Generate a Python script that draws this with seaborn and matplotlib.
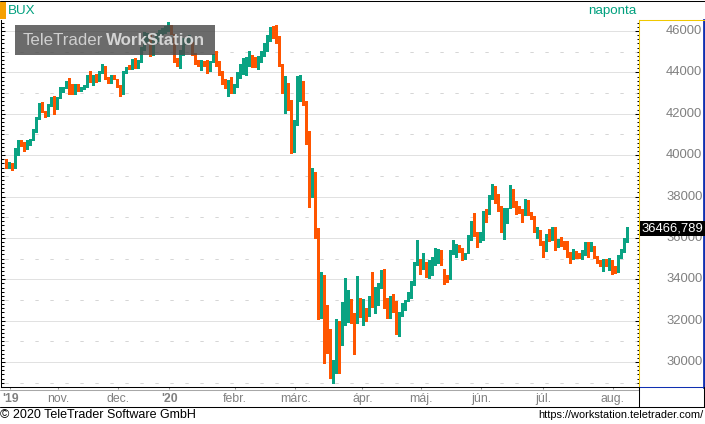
import numpy as np
import pandas as pd
import matplotlib
matplotlib.use("Agg")
import matplotlib.pyplot as plt
import matplotlib.transforms as mtrans
from matplotlib.lines import Line2D
from matplotlib.patches import Rectangle
from matplotlib.ticker import MultipleLocator
import seaborn as sns

# ---------------- data (BUX daily candles) ----------------
open_ = [39770, 39480, 39530, 39450, 40300, 40680, 40550, 40350, 40680, 40820,
         41220, 41780, 42420, 42070, 41940, 42420, 42830, 42280, 42780, 43100,
         43310, 43520, 43390, 43000, 43420, 43180, 43230, 43360, 43830, 43700,
         43880, 43630, 44030, 44230, 43740, 43550, 43830, 43630, 43360, 42990,
         44000, 44270, 44200, 44600, 44250, 44570, 45160, 45600, 45730, 44920,
         45450, 45560, 45900, 45950, 46100, 46250, 45800, 44630, 44470, 44890,
         45480, 45450, 45320, 44920, 44520, 44360, 44440, 44520, 44115, 44520,
         44800, 44520, 43960, 43630, 43400, 43480, 43040, 43360, 43830, 44050,
         44115, 44390, 44600, 44520, 44400, 44600, 44870, 45290, 45565, 46130,
         45770, 45710, 44360, 43070, 43470, 42620, 40200, 41540, 43260, 43310,
         42580, 41130, 38040, 38120, 36470, 32270, 34160, 32270, 31520, 29270,
         29510, 30950, 30880, 32550, 32670, 32950, 32160, 31950, 33080, 32350,
         32550, 32270, 33000, 32680, 32800, 33870, 34450, 32700, 32190, 33160,
         32900, 31580, 32300, 32760, 33000, 33180, 33770, 34770, 34930, 34560,
         34600, 34530, 34770, 34900, 34950, 35330, 34450, 34120, 34010, 35260,
         35410, 35620, 35460, 35050, 35300, 36050, 36500, 36270, 35820, 35980,
         37350, 37190, 37940, 38150, 37900, 37500, 36580, 37300, 37500, 38040,
         37720, 37460, 37270, 37150, 37510, 37190, 36980, 36330, 36330, 35810,
         35370, 36180, 35940, 36500, 35690, 35950, 35780, 35820, 35260, 35100,
         35320, 35200, 35120, 35210, 35560, 35420, 35580, 35090, 34930, 34720,
         34930, 34640, 34760, 34600, 34400, 35090, 35370, 35900]
high_ = [39800, 39650, 39600, 40350, 40750, 40720, 40650, 40720, 40800, 41250,
         41850, 42500, 42550, 42150, 42450, 42800, 42850, 42800, 43300, 43300,
         43600, 43710, 43450, 43450, 43450, 43310, 43400, 43870, 44070, 43870,
         43920, 44070, 44400, 44300, 43800, 43850, 43870, 43680, 43400, 44050,
         44250, 44350, 44650, 44700, 44600, 45250, 45970, 45900, 45800, 45550,
         45900, 46050, 46150, 46250, 46450, 46300, 45850, 44700, 45080, 45650,
         45650, 45800, 45450, 44950, 44600, 44600, 44550, 44600, 44560, 44900,
         45050, 44560, 44050, 43700, 43650, 43800, 43450, 44000, 44400, 44700,
         44750, 45050, 44850, 44760, 44800, 45050, 45400, 45810, 46200, 46260,
         46300, 45750, 44400, 43830, 43500, 42650, 41700, 43830, 43850, 43600,
         42600, 41150, 39360, 39170, 36500, 34350, 34200, 32760, 31600, 30100,
         32080, 31970, 32920, 34080, 33500, 33050, 32350, 34150, 33100, 33050,
         32600, 33200, 34350, 33620, 33800, 34450, 34480, 33100, 33200, 33300,
         32950, 32400, 32850, 33000, 33400, 33900, 34850, 35900, 35000, 35250,
         34850, 34930, 35100, 35530, 35450, 35400, 34500, 34200, 35400, 35895,
         35700, 35680, 35500, 35250, 36140, 36800, 37220, 36300, 36270, 37300,
         37400, 38060, 38620, 38500, 38120, 37550, 37450, 37450, 38560, 38350,
         37800, 37550, 37400, 37900, 37830, 37250, 37050, 36550, 36400, 35850,
         36200, 36450, 36550, 36550, 35950, 36050, 35850, 35850, 35300, 35480,
         35350, 35250, 35400, 35780, 35780, 35820, 35600, 35120, 34950, 34980,
         35000, 35030, 34930, 34650, 35170, 35480, 35980, 36530]
low_ = [39400, 39400, 39280, 39400, 40000, 40420, 40200, 40300, 40500, 40750,
        41100, 41750, 42100, 41850, 41900, 42380, 41970, 42250, 42750, 43050,
        43250, 42940, 42950, 42950, 43100, 43100, 43180, 43300, 43550, 43400,
        43550, 43600, 43990, 43700, 43500, 43500, 43680, 43300, 42850, 42950,
        43950, 44150, 44150, 44200, 44200, 44500, 45100, 45450, 44800, 44850,
        45400, 45500, 45850, 45900, 46000, 45850, 44500, 44300, 44200, 44850,
        45350, 45400, 44850, 44400, 44300, 44115, 44300, 43950, 44080, 44480,
        44300, 43850, 43450, 43250, 42880, 43000, 43000, 43300, 43750, 43900,
        43870, 44300, 44250, 44280, 44150, 44500, 44800, 45050, 45500, 45680,
        45400, 44300, 43000, 42020, 42200, 40100, 40150, 41450, 42600, 42400,
        40530, 37470, 37980, 36000, 32100, 32120, 29970, 30430, 29220, 28990,
        29450, 29480, 30830, 31800, 31950, 31880, 30410, 31880, 32200, 31800,
        32000, 32230, 32650, 32350, 32750, 33600, 32600, 32150, 32150, 32430,
        31340, 31260, 32220, 32500, 32950, 33100, 33700, 34700, 34240, 34500,
        34100, 34050, 34200, 34700, 34800, 34700, 33760, 33850, 33990, 35200,
        35100, 35300, 34950, 35000, 35250, 35900, 36100, 35550, 35800, 35900,
        36750, 37150, 37900, 37670, 37300, 36300, 35950, 36700, 37450, 37500,
        37150, 37200, 36750, 37100, 37100, 36900, 36300, 36010, 35650, 35070,
        35350, 35850, 35900, 35420, 35560, 35600, 35480, 35100, 34800, 35000,
        35050, 35050, 35000, 35150, 35090, 35360, 35040, 34800, 34640, 34380,
        34650, 34450, 34240, 34290, 34350, 35050, 35300, 35800]
close_ = [39450, 39560, 39450, 40300, 40680, 40550, 40330, 40680, 40780, 41220,
          41810, 42420, 42180, 41910, 42420, 42780, 42180, 42780, 43230, 43260,
          43550, 43360, 42990, 43420, 43180, 43230, 43360, 43830, 43590, 43830,
          43590, 44030, 44230, 43740, 43600, 43790, 43720, 43360, 42990, 44000,
          44200, 44200, 44600, 44250, 44550, 45160, 45700, 45750, 44920, 45480,
          45800, 45970, 46050, 46150, 46250, 45900, 44600, 44440, 44890, 45480,
          45560, 45550, 44920, 44520, 44360, 44520, 44360, 44080, 44520, 44840,
          44440, 43875, 43630, 43390, 43480, 43070, 43360, 43830, 43990, 44100,
          44440, 44520, 44490, 44400, 44600, 44870, 45290, 45520, 46130, 45770,
          45720, 44360, 43070, 43470, 42620, 40200, 41540, 43260, 43310, 42580,
          41170, 38040, 38310, 36500, 32270, 34160, 32270, 31520, 29460, 29540,
          30900, 30880, 32550, 32680, 32950, 31950, 31950, 33080, 32350, 32550,
          32270, 32800, 32680, 33570, 33730, 34450, 32680, 32190, 33160, 32920,
          31580, 32270, 32760, 32920, 33180, 33770, 34770, 35100, 34530, 34600,
          34500, 34770, 35000, 35010, 35280, 34780, 34120, 34010, 35300, 35410,
          35620, 35460, 35000, 35180, 36050, 36300, 36270, 35900, 35980, 37270,
          37240, 37940, 38150, 37900, 37500, 36540, 37340, 37360, 38040, 37750,
          37430, 37270, 37190, 37600, 37130, 36980, 36330, 36490, 35730, 35370,
          36180, 35900, 36460, 35690, 35900, 35800, 35570, 35260, 35050, 35340,
          35170, 35120, 35260, 35650, 35480, 35580, 35090, 34880, 34690, 34930,
          34720, 34690, 34600, 34370, 35090, 35370, 35900, 36466.789]

month_pos = [1.3, 17.3, 37.3, 54.3, 76.3, 96.3, 118.7, 138.3, 158.3, 179.0, 202.3]
month_labels = ["'19", "nov.", "dec.", "'20", "febr.", "márc.", "ápr.", "máj.", "jún.", "júl.", "aug."]
year_labels = ["'19", "'20"]
price_ticks = [30000, 32000, 34000, 36000, 38000, 40000, 42000, 44000, 46000]
half_ticks = [29000, 31000, 33000, 35000, 37000, 39000, 41000, 43000, 45000]
symbol = "BUX"
period = "naponta"
last_value = 36466.789

# ---------------- style ----------------
sns.set_style("white")
plt.rcParams["font.family"] = ["Liberation Sans", "DejaVu Sans"]
plt.rcParams["lines.scale_dashes"] = False

W, H = 705, 424
UP, DOWN = "#0aa383", "#ff5500"
TEAL = "#00a07e"
GREY = "#808080"

fig = plt.figure(figsize=(W / 100, H / 100), dpi=100)
fig.patch.set_facecolor("white")


def box(x0, y0, x1, y1):
    return [x0 / W, 1 - y1 / H, (x1 - x0) / W, (y1 - y0) / H]


ax = fig.add_axes(box(0.5, 20, 639, 387))
ax2 = fig.add_axes(box(639, 20, 704, 387), sharey=ax)

df = pd.DataFrame({"open": open_, "high": high_, "low": low_, "close": close_})
df["idx"] = np.arange(len(df))
df["up"] = df["close"] >= df["open"]
colors = np.where(df["up"], UP, DOWN)
body_lo = np.minimum(df["open"], df["close"])
body_h = np.maximum(np.abs(df["close"] - df["open"]), 40)

# grid
for v in price_ticks:
    ax.axhline(v, color="#c4c4c4", lw=0.72, ls=(0, (0.72, 0.72)), zorder=0)
for v in half_ticks:
    ax.axhline(v, color="#d6d6d6", lw=0.72, ls=(8.0, (2.4, 8.4)), zorder=0)

ax.vlines(df["idx"], df["low"], df["high"], colors=colors, lw=0.75, zorder=2, antialiased=False)
ax.bar(df["idx"], body_h, bottom=body_lo, width=0.68, color=colors, linewidth=0, zorder=3,
       antialiased=False)

ax.set_xlim(-2, 211)
ax.set_ylim(28794, 46532)

ax.set_yticks(price_ticks)
ax.yaxis.set_minor_locator(MultipleLocator(200))
ax.tick_params(axis="y", which="both", direction="in", left=True, right=True,
               labelleft=False, labelright=False, color="black", width=0.75)
ax.tick_params(axis="y", which="major", length=3.2)
ax.tick_params(axis="y", which="minor", length=1.8)

ax.set_xticks(month_pos)
ax.set_xticklabels(month_labels)
ax.tick_params(axis="x", which="both", direction="out", length=1.6, width=0.75, color="#909090",
               labelcolor=GREY, labelsize=8.8, pad=3.0, bottom=True)
for t in ax.get_xticklabels():
    if t.get_text() in year_labels:
        t.set_fontweight("bold")

for s in ["top", "right"]:
    ax.spines[s].set_visible(False)
ax.spines["left"].set_color("black")
ax.spines["left"].set_linewidth(0.75)
ax.spines["bottom"].set_color("black")
ax.spines["bottom"].set_linewidth(0.75)
ax.grid(False)

# right price panel
ax2.set_xlim(0, 1)
ax2.tick_params(axis="both", which="both", left=False, bottom=False, right=False, top=False,
                labelleft=False, labelbottom=False)
ax2.grid(False)
ax2.spines["left"].set_color("#f0c800")
ax2.spines["top"].set_color("#f0c800")
ax2.spines["left"].set_linewidth(0.75)
ax2.spines["top"].set_linewidth(0.75)
ax2.spines["right"].set_color("#1030b0")
ax2.spines["right"].set_linewidth(2.0)
ax2.spines["bottom"].set_color("#1030b0")
ax2.spines["bottom"].set_linewidth(0.75)
blend = mtrans.blended_transform_factory(ax2.transAxes, ax2.transData)
for v in price_ticks:
    ax2.text(0.975, v, f"{v}", transform=blend, ha="right", va="center",
             color=GREY, fontsize=9.4)
ax2.text(0.035, last_value, f"{last_value:.3f}".replace(".", ","), transform=blend,
         ha="left", va="center", color="white", fontsize=9.4, zorder=5,
         bbox=dict(boxstyle="square,pad=0.12", fc="black", ec="none"))

# frame lines
def hline(y, x0, x1, color="black", lw=0.75):
    fig.add_artist(Line2D([x0 / W, x1 / W], [1 - y / H, 1 - y / H], color=color, lw=lw))


def vline(x, y0, y1, color="black", lw=0.75):
    fig.add_artist(Line2D([x / W, x / W], [1 - y0 / H, 1 - y1 / H], color=color, lw=lw))


hline(0.5, 0, W)
hline(389.5, 0, 639, color="#a8a8a8")
hline(406.5, 0, W)
vline(639, 387, 406.5)
vline(704, 387, 406.5)

# header
fig.add_artist(Rectangle((0, 1 - 19 / H), 6 / W, 17 / H, transform=fig.transFigure,
                         color="#f5a000", lw=0))
fig.text(8 / W, 1 - 11 / H, symbol, color=TEAL, fontsize=9.6, va="center", ha="left")
fig.text(636 / W, 1 - 11 / H, period, color=TEAL, fontsize=9.6, va="center", ha="right")

# watermark
fig.add_artist(Rectangle((15 / W, 1 - 55 / H), 200 / W, 30 / H, transform=fig.transFigure,
                         facecolor="#4a4a4a", alpha=0.82, lw=0, zorder=10))
fig.text(23 / W, 1 - 40.5 / H, "TeleTrader", color="#cfcfcf", fontsize=12.2,
         va="center", ha="left", zorder=11)
fig.text(106 / W, 1 - 40.5 / H, "WorkStation", color="#d4d4d4", fontsize=12.2,
         fontweight="bold", va="center", ha="left", zorder=11)

# footer
fig.text(0.5 / W, 1 - 414.5 / H, "© 2020 TeleTrader Software GmbH", color="black",
         fontsize=9.0, va="center", ha="left")
fig.text(703 / W, 1 - 414.5 / H, "https://workstation.teletrader.com/", color="black",
         fontsize=7.9, va="center", ha="right")

fig.savefig("out.png", dpi=100, facecolor="white")
